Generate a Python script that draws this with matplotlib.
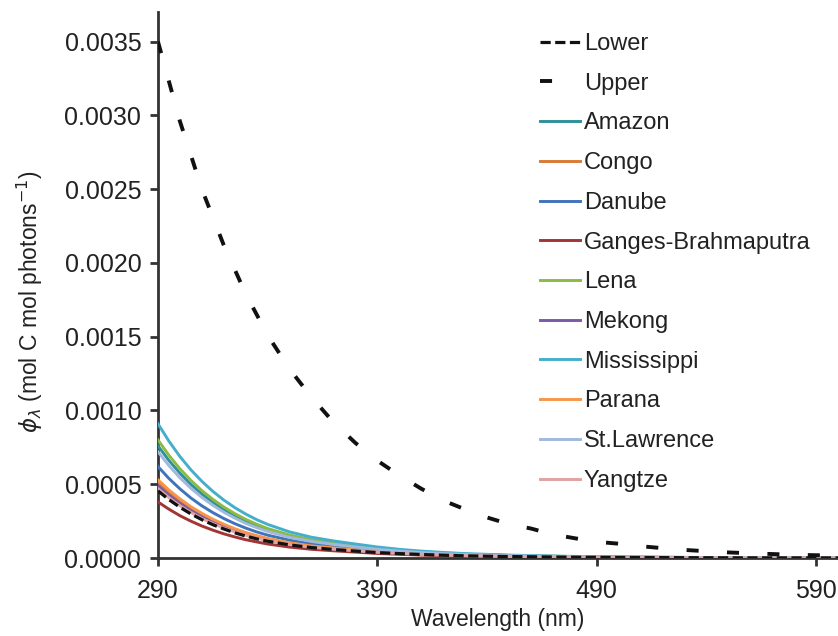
#!/usr/bin/env python3
"""Spectral quantum yield curves for major rivers plus lower/upper bounds."""

import matplotlib
matplotlib.use('Agg')
import matplotlib.pyplot as plt
from matplotlib.ticker import FormatStrFormatter

plt.rcParams['font.family'] = ['Liberation Sans', 'DejaVu Sans']
plt.rcParams['mathtext.fontset'] = 'dejavusans'

# Upper bound, read every 10 nm
wl_upper = [290, 300, 310, 320, 330, 340, 350, 360, 370, 380, 390, 400, 410, 420,
            430, 440, 450, 460, 470, 480, 490, 500, 510, 520, 530, 540, 550, 560,
            570, 580, 590, 600]
upper = [0.00350, 0.00296, 0.00250, 0.00212, 0.00179, 0.00151, 0.00128, 0.00109,
         0.00092, 0.00078, 0.00066, 0.00056, 0.00047, 0.00039, 0.00033, 0.000275,
         0.00023, 0.00020, 0.00016, 0.000134, 0.00011, 0.000097, 0.000080,
         0.000067, 0.000055, 0.000046, 0.000038, 0.000032, 0.000027, 0.000022,
         0.000019, 0.000016]

# Rivers and lower bound (values x 1e-4)
wl = [290, 295, 300, 305, 310, 315, 320, 325, 330, 335, 340, 350, 360, 370, 380,
      390, 400, 410, 420, 430, 440, 450, 475, 500, 550, 600]
lower       = [4.55, 3.96, 3.44, 2.99, 2.60, 2.26, 1.97, 1.71, 1.49, 1.30, 1.14, 0.89, 0.71, 0.58, 0.47, 0.37, 0.30, 0.24, 0.19, 0.15, 0.12, 0.10, 0.061, 0.036, 0.014, 0.005]
amazon      = [7.60, 6.61, 5.75, 4.99, 4.34, 3.78, 3.28, 2.86, 2.49, 2.17, 1.90, 1.48, 1.18, 0.97, 0.79, 0.62, 0.49, 0.40, 0.32, 0.25, 0.21, 0.17, 0.10, 0.061, 0.023, 0.009]
congo       = [5.10, 4.44, 3.86, 3.35, 2.91, 2.53, 2.20, 1.92, 1.67, 1.46, 1.28, 0.99, 0.79, 0.65, 0.53, 0.42, 0.33, 0.27, 0.21, 0.17, 0.14, 0.11, 0.069, 0.041, 0.015, 0.006]
danube      = [6.20, 5.39, 4.69, 4.07, 3.54, 3.08, 2.68, 2.33, 2.03, 1.77, 1.55, 1.21, 0.96, 0.79, 0.64, 0.51, 0.40, 0.32, 0.26, 0.20, 0.17, 0.14, 0.084, 0.050, 0.019, 0.007]
ganges      = [3.80, 3.31, 2.87, 2.50, 2.17, 1.89, 1.64, 1.43, 1.24, 1.09, 0.95, 0.74, 0.59, 0.49, 0.40, 0.31, 0.25, 0.20, 0.16, 0.13, 0.10, 0.084, 0.051, 0.030, 0.011, 0.005]
lena        = [8.00, 6.96, 6.05, 5.26, 4.57, 3.98, 3.46, 3.01, 2.62, 2.29, 2.00, 1.56, 1.24, 1.02, 0.83, 0.66, 0.52, 0.42, 0.34, 0.26, 0.22, 0.18, 0.11, 0.064, 0.024, 0.010]
mekong      = [4.90, 4.26, 3.70, 3.22, 2.80, 2.44, 2.12, 1.84, 1.60, 1.40, 1.23, 0.96, 0.76, 0.63, 0.51, 0.40, 0.32, 0.25, 0.21, 0.16, 0.13, 0.11, 0.066, 0.039, 0.015, 0.006]
mississippi = [9.10, 7.92, 6.88, 5.98, 5.20, 4.52, 3.93, 3.42, 2.98, 2.60, 2.28, 1.77, 1.41, 1.16, 0.95, 0.75, 0.59, 0.47, 0.38, 0.30, 0.25, 0.20, 0.12, 0.073, 0.027, 0.011]
parana      = [5.30, 4.61, 4.01, 3.48, 3.03, 2.63, 2.29, 1.99, 1.73, 1.52, 1.33, 1.03, 0.82, 0.68, 0.55, 0.43, 0.34, 0.28, 0.22, 0.17, 0.14, 0.12, 0.072, 0.042, 0.016, 0.006]
stlawrence  = [7.20, 6.26, 5.44, 4.73, 4.11, 3.58, 3.11, 2.71, 2.35, 2.06, 1.80, 1.40, 1.12, 0.92, 0.75, 0.59, 0.47, 0.37, 0.30, 0.24, 0.19, 0.16, 0.097, 0.058, 0.022, 0.009]
yangtze     = [4.70, 4.09, 3.55, 3.09, 2.68, 2.34, 2.03, 1.77, 1.54, 1.34, 1.18, 0.92, 0.73, 0.60, 0.49, 0.39, 0.31, 0.24, 0.20, 0.16, 0.13, 0.10, 0.063, 0.038, 0.014, 0.006]

river_names = ['Amazon', 'Congo', 'Danube', 'Ganges-Brahmaputra', 'Lena', 'Mekong',
               'Mississippi', 'Parana', 'St.Lawrence', 'Yangtze']
river_values = [amazon, congo, danube, ganges, lena, mekong, mississippi, parana,
                stlawrence, yangtze]
river_colors = ['#2f8f9a', '#d97a35', '#3f74bb', '#a23535', '#8cbb45', '#7a5aa6',
                '#45afcb', '#f7964a', '#a0b9dc', '#dfa3a3']

fig = plt.figure(figsize=(8.38, 6.36), dpi=100)
ax = fig.add_axes([0.1885, 0.1226, 0.8115, 0.8585])

lines = []
l_low, = ax.plot(wl, [v * 1e-4 for v in lower], color='#111111', lw=2.3,
                 ls=(0, (3.2, 1.4)), zorder=4, label='Lower')
l_up, = ax.plot(wl_upper, upper, color='#111111', lw=2.8,
                ls=(0, (3.1, 7.3)), zorder=4, label='Upper')
lines += [l_low, l_up]
for name, vals, col in zip(river_names, river_values, river_colors):
    ln, = ax.plot(wl, [v * 1e-4 for v in vals], color=col, lw=2.1, zorder=3, label=name)
    lines.append(ln)

ax.set_xlim(290, 600)
ax.set_ylim(0, 0.0037)
ax.set_xticks([290, 390, 490, 590])
ax.set_yticks([i * 0.0005 for i in range(8)])
ax.yaxis.set_major_formatter(FormatStrFormatter('%.4f'))

for side in ['top', 'right']:
    ax.spines[side].set_visible(False)
for side in ['left', 'bottom']:
    ax.spines[side].set_linewidth(2.0)
    ax.spines[side].set_color('#333333')
ax.tick_params(direction='out', length=6, width=2.0, color='#333333',
               labelsize=18, labelcolor='#222222', pad=6)
ax.tick_params(axis='x', pad=9)

ax.set_xlabel('Wavelength (nm)', fontsize=16.5, color='#222222', labelpad=4)
ax.set_ylabel(r'$\phi_\lambda$ (mol C mol photons$^{-1}$)', fontsize=16.5,
              color='#222222', labelpad=14, y=0.47)

leg = fig.legend(handles=lines, loc='upper left', bbox_to_anchor=(540 / 838, 1 - 33 / 636),
                 frameon=False, fontsize=17, handlelength=1.7, handletextpad=0.15,
                 labelspacing=0.75, borderpad=0, borderaxespad=0)
for t in leg.get_texts():
    t.set_color('#222222')

fig.savefig('out.png', dpi=100, facecolor='white')
